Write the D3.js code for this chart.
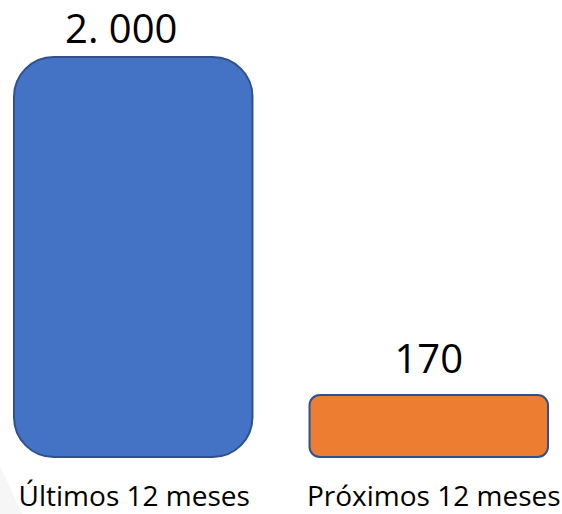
<!DOCTYPE html>
<html>
<head>
<meta charset="utf-8">
<script src="https://cdn.jsdelivr.net/npm/d3@7/dist/d3.min.js"></script>
<style>
  html, body { margin: 0; padding: 0; background: #ffffff; }
  svg { display: block; }
  text { font-family: "Open Sans", "Noto Sans", sans-serif; fill: #000; }
</style>
</head>
<body>
<svg id="chart" width="562" height="514"></svg>
<script>
const categories = ["Últimos 12 meses", "Próximos 12 meses"];
const values = [2000, 170];
const valueLabels = ["2. 000", "170"];
const colors = ["#4472C4", "#ED7D31"];

const svg = d3.select("#chart");

const x = d3.scaleBand()
  .domain(categories)
  .range([14, 548])
  .paddingInner(0.193)
  .paddingOuter(0);

const y = d3.scaleLinear()
  .domain([-166, 2000])
  .range([457, 57]);

// faint background decoration at lower-left
svg.append("path")
  .attr("d", "M0,466 L22,514 L0,514 Z")
  .attr("fill", "#f6f6f6");

const g = svg.append("g");
const base = y(y.domain()[0]);

g.selectAll("rect.bar")
  .data(values)
  .join("rect")
  .attr("class", "bar")
  .attr("x", (d, i) => x(categories[i]))
  .attr("y", d => y(d))
  .attr("width", x.bandwidth())
  .attr("height", d => base - y(d))
  .attr("rx", d => 0.1667 * Math.min(x.bandwidth(), base - y(d)))
  .attr("ry", d => 0.1667 * Math.min(x.bandwidth(), base - y(d)))
  .attr("fill", (d, i) => colors[i])
  .attr("stroke", "#2F528F")
  .attr("stroke-width", 2);

const labelOffsets = [-12, 0];
const labelGaps = [14, 22];
g.selectAll("text.val")
  .data(values)
  .join("text")
  .attr("class", "val")
  .attr("x", (d, i) => x(categories[i]) + x.bandwidth() / 2 + labelOffsets[i])
  .attr("y", (d, i) => y(d) - labelGaps[i])
  .attr("text-anchor", "middle")
  .attr("font-size", 40)
  .text((d, i) => valueLabels[i]);

const catOffsets = [1, 5];
g.selectAll("text.cat")
  .data(categories)
  .join("text")
  .attr("class", "cat")
  .attr("x", (d, i) => x(d) + x.bandwidth() / 2 + catOffsets[i])
  .attr("y", 506)
  .attr("text-anchor", "middle")
  .attr("font-size", 28)
  .text(d => d);
</script>
</body>
</html>
